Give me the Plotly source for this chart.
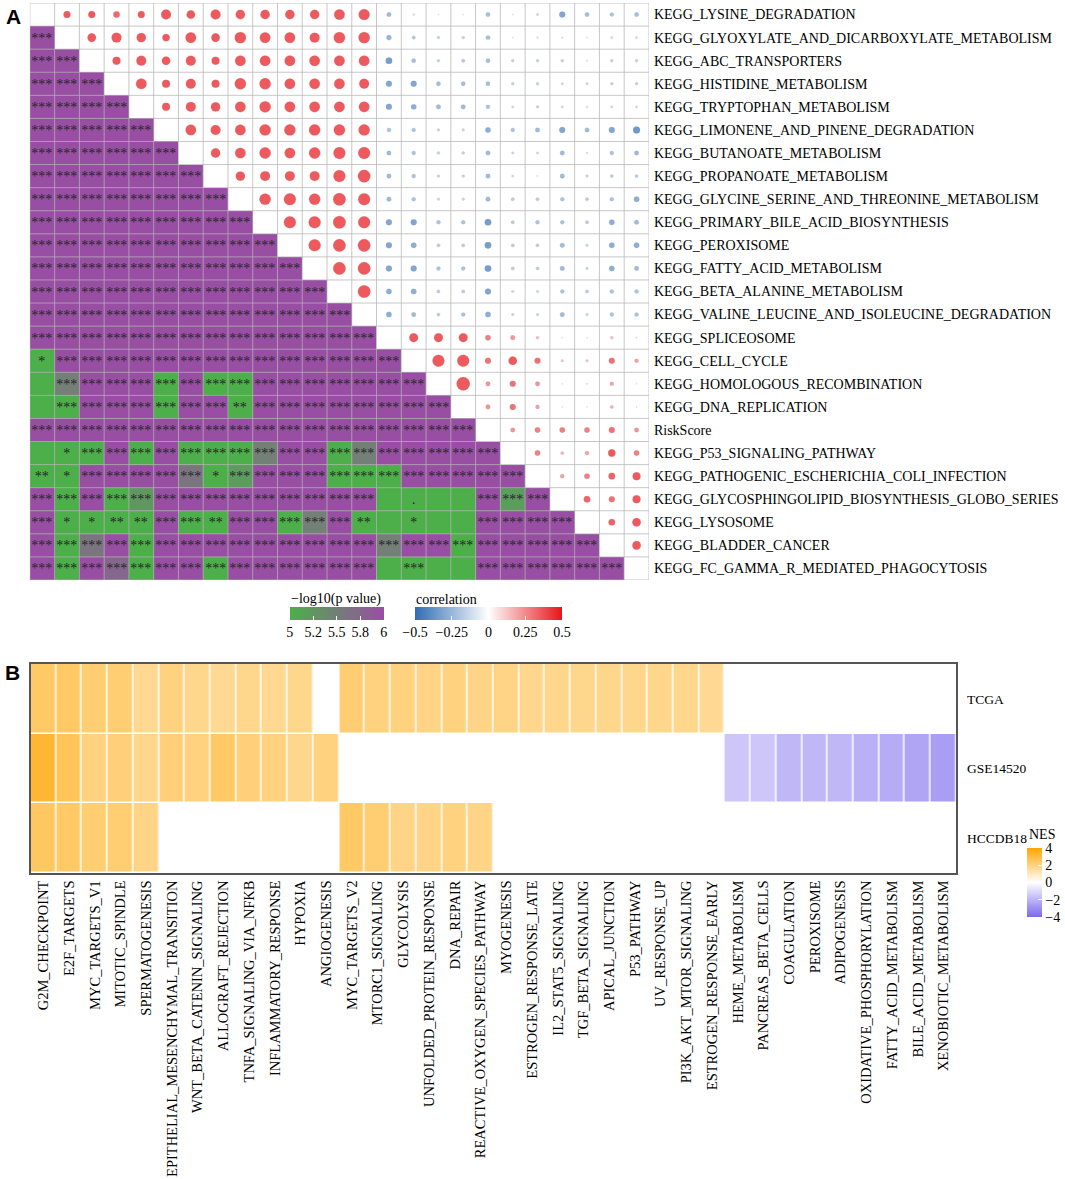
import numpy as np
import plotly.graph_objects as go

# ---------------- Panel A data ----------------
kegg_vars = [
    "KEGG_LYSINE_DEGRADATION",
    "KEGG_GLYOXYLATE_AND_DICARBOXYLATE_METABOLISM",
    "KEGG_ABC_TRANSPORTERS",
    "KEGG_HISTIDINE_METABOLISM",
    "KEGG_TRYPTOPHAN_METABOLISM",
    "KEGG_LIMONENE_AND_PINENE_DEGRADATION",
    "KEGG_BUTANOATE_METABOLISM",
    "KEGG_PROPANOATE_METABOLISM",
    "KEGG_GLYCINE_SERINE_AND_THREONINE_METABOLISM",
    "KEGG_PRIMARY_BILE_ACID_BIOSYNTHESIS",
    "KEGG_PEROXISOME",
    "KEGG_FATTY_ACID_METABOLISM",
    "KEGG_BETA_ALANINE_METABOLISM",
    "KEGG_VALINE_LEUCINE_AND_ISOLEUCINE_DEGRADATION",
    "KEGG_SPLICEOSOME",
    "KEGG_CELL_CYCLE",
    "KEGG_HOMOLOGOUS_RECOMBINATION",
    "KEGG_DNA_REPLICATION",
    "RiskScore",
    "KEGG_P53_SIGNALING_PATHWAY",
    "KEGG_PATHOGENIC_ESCHERICHIA_COLI_INFECTION",
    "KEGG_GLYCOSPHINGOLIPID_BIOSYNTHESIS_GLOBO_SERIES",
    "KEGG_LYSOSOME",
    "KEGG_BLADDER_CANCER",
    "KEGG_FC_GAMMA_R_MEDIATED_PHAGOCYTOSIS",
]

# correlation, upper triangle: row i holds columns j = i+1 .. n-1
corr_upper = [
    [0.50, 0.50, 0.46, 0.50, 0.71, 0.61, 0.71, 0.67, 0.67, 0.67, 0.67, 0.76, 0.79,
     -0.33, -0.14, -0.07, -0.09, -0.31, -0.09, -0.17, -0.43, -0.31, -0.29, -0.31],
    [0.61, 0.71, 0.67, 0.53, 0.76, 0.61, 0.81, 0.76, 0.76, 0.71, 0.81, 0.81,
     -0.36, -0.26, -0.21, -0.21, -0.31, -0.09, -0.13, -0.13, -0.09, -0.17, -0.17],
    [0.57, 0.71, 0.61, 0.71, 0.57, 0.76, 0.76, 0.76, 0.76, 0.76, 0.76,
     -0.47, -0.31, -0.21, -0.26, -0.31, -0.21, -0.21, -0.21, -0.11, -0.21, -0.21],
    [0.76, 0.57, 0.71, 0.57, 0.81, 0.81, 0.76, 0.76, 0.76, 0.71,
     -0.43, -0.43, -0.31, -0.31, -0.31, -0.21, -0.21, -0.17, -0.17, -0.21, -0.21],
    [0.57, 0.71, 0.67, 0.76, 0.81, 0.76, 0.76, 0.76, 0.76,
     -0.43, -0.39, -0.33, -0.33, -0.29, -0.17, -0.21, -0.17, -0.14, -0.17, -0.17],
    [0.76, 0.71, 0.76, 0.81, 0.81, 0.81, 0.81, 0.81,
     -0.29, -0.29, -0.19, -0.19, -0.39, -0.29, -0.33, -0.43, -0.33, -0.43, -0.50],
    [0.67, 0.76, 0.81, 0.76, 0.81, 0.86, 0.86,
     -0.33, -0.29, -0.21, -0.21, -0.33, -0.17, -0.17, -0.33, -0.14, -0.29, -0.33],
    [0.67, 0.71, 0.71, 0.71, 0.86, 0.90,
     -0.33, -0.29, -0.21, -0.21, -0.33, -0.17, -0.11, -0.33, -0.19, -0.24, -0.24],
    [0.81, 0.86, 0.81, 0.90, 0.86,
     -0.33, -0.29, -0.19, -0.19, -0.33, -0.24, -0.24, -0.29, -0.24, -0.29, -0.39],
    [0.86, 0.86, 0.90, 0.86,
     -0.43, -0.43, -0.29, -0.29, -0.47, -0.24, -0.29, -0.29, -0.24, -0.39, -0.33],
    [0.86, 0.90, 0.90,
     -0.43, -0.39, -0.24, -0.24, -0.47, -0.24, -0.24, -0.33, -0.19, -0.39, -0.39],
    [0.90, 0.90,
     -0.43, -0.43, -0.29, -0.29, -0.47, -0.24, -0.24, -0.33, -0.19, -0.39, -0.33],
    [0.90,
     -0.39, -0.39, -0.24, -0.24, -0.43, -0.19, -0.19, -0.29, -0.24, -0.29, -0.29],
    [-0.39, -0.33, -0.24, -0.29, -0.39, -0.19, -0.19, -0.33, -0.19, -0.29, -0.29],
    [0.64, 0.64, 0.64, 0.39, 0.33, 0.21, 0.04, 0.09, 0.21, 0.11],
    [0.86, 0.86, 0.43, 0.61, 0.43, 0.19, 0.19, 0.43, 0.29],
    [0.96, 0.33, 0.43, 0.33, 0.07, 0.10, 0.29, 0.07],
    [0.33, 0.43, 0.29, 0.07, 0.07, 0.24, 0.07],
    [0.33, 0.39, 0.39, 0.39, 0.43, 0.33],
    [0.39, 0.24, 0.29, 0.53, 0.39],
    [0.29, 0.39, 0.47, 0.57],
    [0.47, 0.43, 0.57],
    [0.47, 0.61],
    [0.61],
]

# -log10(p value), lower triangle: row i holds columns j = 0 .. i-1
neglog10_p_lower = [
    [],
    [9.0],
    [9.0] * 2,
    [9.0] * 3,
    [9.0] * 4,
    [9.0] * 5,
    [9.0] * 6,
    [9.0] * 7,
    [9.0] * 8,
    [9.0] * 9,
    [9.0] * 10,
    [9.0] * 11,
    [9.0] * 12,
    [9.0] * 13,
    [9.0] * 14,
    [1.5] + [9.0] * 14,
    [0.6, 5.5, 9.0, 9.0, 9.0, 4.0, 9.0, 4.0, 4.0, 9.0, 9.0, 9.0, 9.0, 9.0, 9.0, 9.0],
    [0.7, 4.0, 9.0, 9.0, 9.0, 4.0, 9.0, 9.0, 2.5, 9.0, 9.0, 9.0, 9.0, 9.0, 9.0, 9.0, 9.0],
    [9.0] * 18,
    [0.8, 1.5, 4.0, 9.0, 4.0, 9.0, 4.0, 4.0, 4.0, 5.5, 9.0, 9.0, 4.0, 5.5, 9.0, 9.0, 9.0, 9.0, 9.0],
    [2.3, 1.6, 9.0, 9.0, 9.0, 9.0, 5.6, 1.5, 5.2, 9.0, 9.0, 9.0, 4.0, 4.0, 4.0, 9.0, 9.0, 9.0, 9.0, 9.0],
    [9.0, 4.0, 9.0, 4.0, 5.25, 9.0, 9.0, 9.0, 9.0, 9.0, 9.0, 9.0, 9.0, 9.0, 0.5, 1.1, 0.6, 0.4,
     9.0, 5.2, 9.0],
    [9.0, 1.5, 1.4, 2.2, 2.4, 9.0, 4.0, 2.5, 9.0, 9.0, 4.0, 5.5, 9.0, 2.3, 0.4, 1.5, 0.7, 0.5,
     9.0, 9.0, 9.0, 9.0],
    [9.0, 4.0, 5.6, 9.0, 4.0, 9.0, 9.0, 9.0, 9.0, 9.0, 9.0, 9.0, 9.0, 9.0, 5.5, 9.0, 9.0, 4.0,
     9.0, 9.0, 9.0, 9.0, 9.0],
    [9.0, 4.0, 9.0, 5.75, 4.0, 9.0, 9.0, 4.0, 9.0, 9.0, 9.0, 9.0, 9.0, 9.0, 0.5, 3.5, 0.6, 0.8,
     9.0, 9.0, 9.0, 9.0, 9.0, 9.0],
]

p_title = "\u2212log10(p value)"
p_ticks = [5, 5.25, 5.5, 5.75, 6]
p_ticktext = ["5", "5.2", "5.5", "5.8", "6"]
corr_title = "correlation"
corr_ticks = [-0.5, -0.25, 0, 0.25, 0.5]
corr_ticktext = ["\u22120.5", "\u22120.25", "0", "0.25", "0.5"]

# ---------------- Panel B data ----------------
hallmark_sets = [
    "G2M_CHECKPOINT", "E2F_TARGETS", "MYC_TARGETS_V1", "MITOTIC_SPINDLE", "SPERMATOGENESIS",
    "EPITHELIAL_MESENCHYMAL_TRANSITION", "WNT_BETA_CATENIN_SIGNALING", "ALLOGRAFT_REJECTION",
    "TNFA_SIGNALING_VIA_NFKB", "INFLAMMATORY_RESPONSE", "HYPOXIA", "ANGIOGENESIS",
    "MYC_TARGETS_V2", "MTORC1_SIGNALING", "GLYCOLYSIS", "UNFOLDED_PROTEIN_RESPONSE",
    "DNA_REPAIR", "REACTIVE_OXYGEN_SPECIES_PATHWAY", "MYOGENESIS", "ESTROGEN_RESPONSE_LATE",
    "IL2_STAT5_SIGNALING", "TGF_BETA_SIGNALING", "APICAL_JUNCTION", "P53_PATHWAY",
    "UV_RESPONSE_UP", "PI3K_AKT_MTOR_SIGNALING", "ESTROGEN_RESPONSE_EARLY", "HEME_METABOLISM",
    "PANCREAS_BETA_CELLS", "COAGULATION", "PEROXISOME", "ADIPOGENESIS",
    "OXIDATIVE_PHOSPHORYLATION", "FATTY_ACID_METABOLISM", "BILE_ACID_METABOLISM",
    "XENOBIOTIC_METABOLISM",
]
cohorts = ["TCGA", "GSE14520", "HCCDB18"]
nes_tcga = [2.4, 2.4, 2.2, 2.2, 1.7, 2.0, 1.8, 1.7, 1.8, 1.7, 1.8, None,
            2.2, 2.0, 2.0, 1.9, 2.0, 1.9, 1.9, 1.8, 1.8, 1.8, 1.8, 1.8, 1.8, 1.8, 1.7] + [None] * 9
nes_gse14520 = [3.2, 2.6, 2.0, 2.1, 1.8, 2.1, 2.0, 2.4, 2.1, 2.0, 1.8, 2.0] + [None] * 15 + \
               [-1.5, -1.5, -1.9, -1.9, -1.9, -2.1, -2.2, -2.4, -2.6]
nes_hccdb18 = [2.5, 2.4, 2.2, 2.2, 1.9] + [None] * 7 + [2.4, 2.2, 1.9, 1.9, 2.0, 1.9] + [None] * 18
nes_title = "NES"
nes_ticks = [-4, -2, 0, 2, 4]
nes_ticktext = ["\u22124", "\u22122", "0", "2", "4"]

# ---------------- styling ----------------
W, H = 1065, 1179
SERIF = "Liberation Serif, Times New Roman, serif"
SANS = "Liberation Sans, Arial, sans-serif"
GREEN, PURPLE = "#4DAF4A", "#984EA3"
BLUE, RED = "#2F6DB4", "#E8141B"
GRID = "rgba(180,180,180,0.75)"
TICKFONT = dict(family=SERIF, size=14, color="black")

n = len(kegg_vars)
corr = np.full((n, n), np.nan)
for i, row in enumerate(corr_upper):
    for k, v in enumerate(row):
        corr[i, i + 1 + k] = v
plog = np.full((n, n), np.nan)
for i, row in enumerate(neglog10_p_lower):
    for j, v in enumerate(row):
        plog[i, j] = v


def stars(v):
    if np.isnan(v):
        return ""
    if v > 3:
        return "***"
    if v > 2:
        return "**"
    if v > -np.log10(0.05):
        return "*"
    if v > 1:
        return "."
    return ""


star_text = [[stars(plog[i, j]) for j in range(n)] for i in range(n)]

fig = go.Figure()

# lower triangle: p-value heatmap
fig.add_trace(go.Heatmap(
    z=plog, x=list(range(n)), y=list(range(n)),
    zmin=5, zmax=6,
    colorscale=[[0, GREEN], [1, PURPLE]],
    text=star_text, texttemplate="%{text}",
    textfont=dict(family=SERIF, size=14, color="#262626"),
    hoverongaps=False,
    xaxis="x", yaxis="y",
    colorbar=dict(
        orientation="h", x=291 / W, xanchor="left", y=1 - 607 / H, yanchor="top",
        len=94 / W, lenmode="fraction", thickness=13, xpad=0, ypad=0,
        outlinewidth=0,
        tickvals=p_ticks, ticktext=p_ticktext, ticks="inside", tickcolor="white", ticklen=4,
        tickfont=TICKFONT,
    ),
))

# upper triangle: correlation circles
xs, ys, rs = [], [], []
for i in range(n):
    for j in range(i + 1, n):
        xs.append(j)
        ys.append(i)
        rs.append(corr[i, j])
rs = np.array(rs)
fig.add_trace(go.Scatter(
    x=xs, y=ys, mode="markers",
    marker=dict(
        size=np.maximum(np.abs(rs) * 14, 1.2),
        color=rs, cmin=-0.5, cmax=0.5,
        colorscale=[[0, BLUE], [0.5, "#FFFFFF"], [1, RED]],
        line=dict(color="rgba(120,120,120,0.35)", width=0.5),
        colorbar=dict(
            orientation="h", x=417 / W, xanchor="left", y=1 - 607 / H, yanchor="top",
            len=148 / W, lenmode="fraction", thickness=13, xpad=0, ypad=0,
            outlinewidth=0,
            tickvals=corr_ticks, ticktext=corr_ticktext, ticks="inside", tickcolor="white",
            ticklen=4, tickfont=TICKFONT,
        ),
    ),
    xaxis="x", yaxis="y", showlegend=False, hoverinfo="skip",
))

# grid lines for panel A
shapes = []
for k in range(n + 1):
    shapes.append(dict(type="line", xref="x", yref="y", x0=k - 0.5, x1=k - 0.5,
                       y0=-0.5, y1=n - 0.5, line=dict(color=GRID, width=1), layer="above"))
    shapes.append(dict(type="line", xref="x", yref="y", y0=k - 0.5, y1=k - 0.5,
                       x0=-0.5, x1=n - 0.5, line=dict(color=GRID, width=1), layer="above"))

# ---------------- Panel B ----------------
nes_z = [[np.nan if v is None else v for v in row] for row in (nes_tcga, nes_gse14520, nes_hccdb18)]
fig.add_trace(go.Heatmap(
    z=nes_z, x=list(range(len(hallmark_sets))), y=list(range(len(cohorts))),
    zmin=-4, zmax=4,
    colorscale=[[0, "#7B68EE"], [0.5, "#FFFFFF"], [1, "#FFA500"]],
    xgap=1.5, ygap=1.5, hoverongaps=False,
    xaxis="x2", yaxis="y2",
    colorbar=dict(
        x=1032 / W, xanchor="left", y=1 - 917 / H, yanchor="bottom",
        len=69 / H, lenmode="fraction", thickness=15, xpad=0, ypad=0, outlinewidth=0,
        tickvals=nes_ticks, ticktext=nes_ticktext, ticks="inside", tickcolor="white",
        ticklen=4, tickfont=TICKFONT,
    ),
))

fig.update_layout(
    width=W, height=H,
    margin=dict(l=0, r=0, t=0, b=0),
    paper_bgcolor="white", plot_bgcolor="white",
    showlegend=False,
    xaxis=dict(domain=[30 / W, 652 / W], range=[-0.5, n - 0.5], showticklabels=False,
               showgrid=False, zeroline=False, ticks=""),
    yaxis=dict(domain=[1 - 580 / H, 1 - 3 / H], range=[n - 0.5, -0.5], side="right",
               tickvals=list(range(n)), ticktext=kegg_vars, showgrid=False, zeroline=False,
               ticks="", ticklabelstandoff=4,
               tickfont=dict(family=SERIF, size=14, color="black")),
    xaxis2=dict(domain=[30.7 / W, 961 / W], range=[-0.5, len(hallmark_sets) - 0.5],
                tickvals=list(range(len(hallmark_sets))), ticktext=hallmark_sets,
                tickangle=-90, showgrid=False, zeroline=False, ticks="",
                showline=True, mirror=True, linecolor="#555555", linewidth=1.5,
                tickfont=dict(family=SERIF, size=14.5, color="black"), anchor="y2"),
    yaxis2=dict(domain=[1 - 873 / H, 1 - 664 / H], range=[len(cohorts) - 0.5, -0.5],
                tickvals=list(range(len(cohorts))), ticktext=cohorts, side="right",
                showgrid=False, zeroline=False, ticks="", ticklabelstandoff=6,
                showline=True, mirror=True, linecolor="#555555", linewidth=1.5,
                tickfont=dict(family=SERIF, size=13.5, color="black"), anchor="x2"),
    shapes=shapes,
    annotations=[
        dict(text="<b>A</b>", x=4 / W, y=1 - 3 / H, xref="paper", yref="paper",
             xanchor="left", yanchor="top", showarrow=False,
             font=dict(family=SANS, size=21, color="black")),
        dict(text="<b>B</b>", x=3 / W, y=1 - 659 / H, xref="paper", yref="paper",
             xanchor="left", yanchor="top", showarrow=False,
             font=dict(family=SANS, size=21, color="black")),
        dict(text=p_title, x=290 / W, y=1 - 599 / H, xref="paper", yref="paper",
             xanchor="left", yanchor="middle", showarrow=False,
             font=dict(family=SERIF, size=14, color="black")),
        dict(text=corr_title, x=416 / W, y=1 - 599 / H, xref="paper", yref="paper",
             xanchor="left", yanchor="middle", showarrow=False,
             font=dict(family=SERIF, size=14, color="black")),
        dict(text=nes_title, x=1032 / W, y=1 - 835 / H, xref="paper", yref="paper",
             xanchor="left", yanchor="middle", showarrow=False,
             font=dict(family=SERIF, size=14, color="black")),
    ],
)

fig.write_html("out.html", config={"displayModeBar": False},
               post_script="document.body.style.margin='0px';")
